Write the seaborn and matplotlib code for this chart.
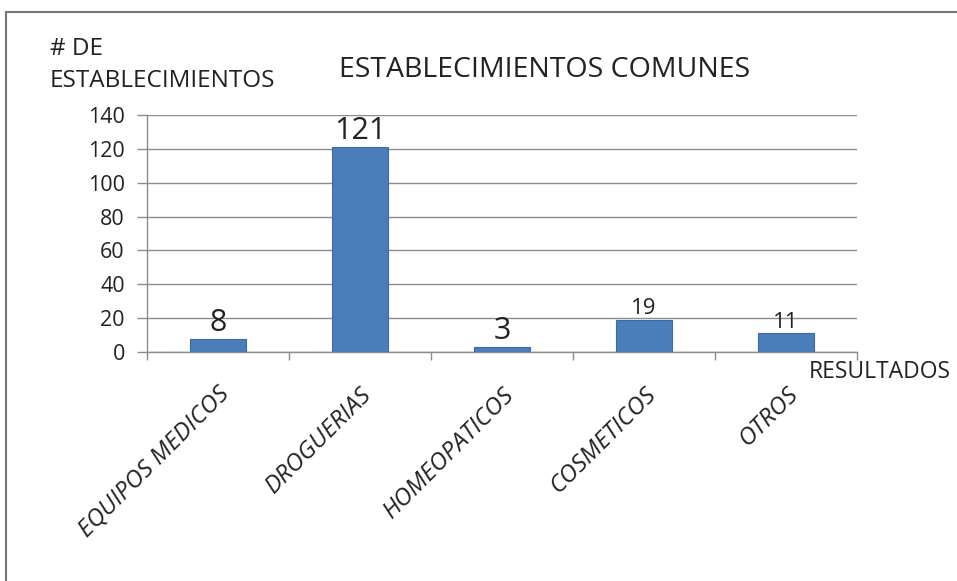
import numpy as np
import pandas as pd
import matplotlib
matplotlib.use('Agg')
import matplotlib.pyplot as plt
import seaborn as sns
from matplotlib.lines import Line2D

categorias = ['EQUIPOS MEDICOS', 'DROGUERIAS', 'HOMEOPATICOS', 'COSMETICOS', 'OTROS']
valores = [8, 121, 3, 19, 11]
etiqueta_tam = [22, 22, 22, 16, 16]
y_ticks = [0, 20, 40, 60, 80, 100, 120, 140]

sns.set_theme(style="white")
plt.rcParams['font.family'] = ['Open Sans', 'DejaVu Sans']

df = pd.DataFrame({'categoria': categorias, 'valor': valores})

fig = plt.figure(figsize=(9.57, 5.81), dpi=100)
ax = fig.add_axes([0.1536, 0.394, 0.742, 0.408])

sns.barplot(data=df, x='categoria', y='valor', color='#4A7EBB', width=0.4,
            saturation=1, edgecolor='#3C6AA3', linewidth=0.8, ax=ax, zorder=3)

ax.set_ylim(0, 140)
ax.set_xlim(-0.5, len(categorias) - 0.5)
ax.set_yticks(y_ticks)
ax.set_yticklabels([str(t) for t in y_ticks], fontsize=15.5, color='#222222')
ax.yaxis.grid(True, color='#8c8c8c', linewidth=1)
ax.set_axisbelow(True)

# category boundary ticks on x axis
ax.set_xticks(np.arange(len(categorias) + 1) - 0.5, minor=True)
ax.tick_params(axis='x', which='minor', length=6, color='#8c8c8c', width=1, bottom=True)
ax.tick_params(axis='x', which='major', length=0, pad=22)
ax.tick_params(axis='y', length=7, color='#8c8c8c', width=1, left=True, pad=9)
ax.set_xticks(range(len(categorias)))
ax.set_xticklabels(categorias, rotation=45, ha='right', rotation_mode='anchor',
                   fontsize=17.5, style='italic', color='#222222')

for s in ['top', 'right']:
    ax.spines[s].set_visible(False)
for s in ['left', 'bottom']:
    ax.spines[s].set_color('#8c8c8c')
    ax.spines[s].set_linewidth(1)

for i, (v, fs) in enumerate(zip(valores, etiqueta_tam)):
    ax.text(i, v + 0.5, str(v), ha='center', va='bottom', fontsize=fs, color='#222222', zorder=4)

ax.set_xlabel('')
ax.set_ylabel('')

fig.text(0.569, 0.88, 'ESTABLECIMIENTOS COMUNES', ha='center', va='center', fontsize=20.5, color='#222222')
fig.text(0.052, 0.888, '# DE\nESTABLECIMIENTOS', ha='left', va='center', fontsize=17.5,
         color='#222222', linespacing=1.45)
fig.text(0.845, 0.36, 'RESULTADOS', ha='left', va='center', fontsize=16.5, color='#222222')

# outer frame
fig.add_artist(Line2D([0.006, 0.006], [0.0, 0.979], color='#777777', linewidth=1.5))
fig.add_artist(Line2D([0.006, 1.0], [0.979, 0.979], color='#777777', linewidth=1.5))

fig.savefig('out.png', dpi=100)
